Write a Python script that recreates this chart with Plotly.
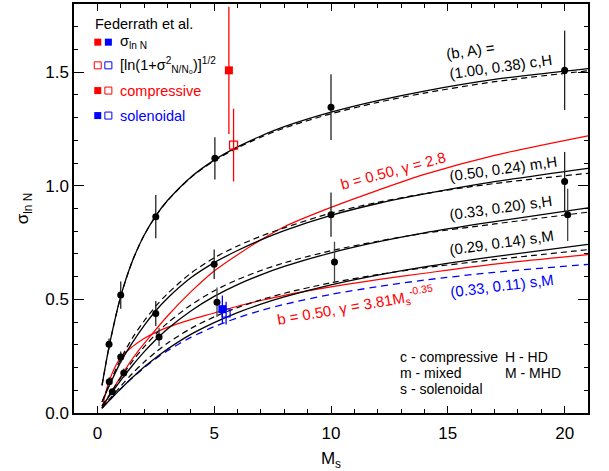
import plotly.graph_objects as go

# ---------------- data ----------------
ms_grid = [0.2, 0.5, 1, 1.5, 2, 2.5, 3, 4, 5, 6, 7, 8, 10, 12, 14, 17, 21]

cH_solid = [0.122, 0.291, 0.513, 0.669, 0.782, 0.868, 0.935, 1.038, 1.113, 1.171, 1.219, 1.260, 1.324, 1.375, 1.417, 1.468, 1.516]
cH_dash  = [0.122, 0.291, 0.513, 0.669, 0.782, 0.867, 0.934, 1.036, 1.110, 1.167, 1.214, 1.254, 1.317, 1.367, 1.408, 1.458, 1.506]
mH_solid = [0.049, 0.118, 0.225, 0.310, 0.385, 0.450, 0.505, 0.595, 0.662, 0.715, 0.762, 0.803, 0.870, 0.922, 0.964, 1.018, 1.077]
mH_dash  = [0.049, 0.125, 0.238, 0.330, 0.405, 0.470, 0.525, 0.615, 0.683, 0.735, 0.778, 0.815, 0.880, 0.927, 0.965, 1.010, 1.055]
sH_solid = [0.030, 0.073, 0.144, 0.209, 0.269, 0.322, 0.370, 0.449, 0.513, 0.565, 0.608, 0.645, 0.705, 0.753, 0.793, 0.842, 0.903]
sH_dash  = [0.030, 0.078, 0.156, 0.227, 0.291, 0.347, 0.396, 0.475, 0.538, 0.587, 0.627, 0.661, 0.714, 0.756, 0.791, 0.832, 0.884]
sM_solid = [0.022, 0.054, 0.106, 0.156, 0.202, 0.243, 0.281, 0.346, 0.398, 0.442, 0.479, 0.511, 0.564, 0.607, 0.643, 0.688, 0.742]
sM_dash  = [0.022, 0.059, 0.118, 0.174, 0.224, 0.268, 0.307, 0.372, 0.423, 0.464, 0.498, 0.527, 0.573, 0.609, 0.639, 0.675, 0.719]
sM_blue  = [0.022, 0.054, 0.107, 0.155, 0.199, 0.239, 0.274, 0.333, 0.380, 0.419, 0.451, 0.478, 0.522, 0.556, 0.585, 0.619, 0.654]
red_g28  = [0.020, 0.075, 0.160, 0.238, 0.305, 0.367, 0.427, 0.533, 0.625, 0.697, 0.762, 0.820, 0.905, 0.980, 1.050, 1.134, 1.220]
red_gvar = [0.020, 0.140, 0.245, 0.292, 0.328, 0.355, 0.377, 0.411, 0.440, 0.470, 0.495, 0.518, 0.555, 0.587, 0.615, 0.655, 0.697]

# simulation points (black)
ms_c = [0.5, 1.0, 2.5, 5.03, 10.0, 20.0]
sig_c = [0.303, 0.519, 0.864, 1.121, 1.346, 1.508]
err_c = [0.025, 0.06, 0.095, 0.093, 0.145, 0.175]
ms_m = [0.51, 1.0, 2.5, 5.0, 10.0, 20.0]
sig_m = [0.137, 0.246, 0.438, 0.655, 0.873, 1.019]
err_m = [0.02, 0.025, 0.055, 0.065, 0.097, 0.13]
ms_s = [0.64, 1.13, 2.64, 5.12, 10.15, 20.13]
sig_s = [0.094, 0.176, 0.335, 0.487, 0.664, 0.872]
err_s = [0.012, 0.02, 0.04, 0.065, 0.09, 0.115]

# Federrath et al. points
fed_comp_ms = [5.63]; fed_comp_sig = [1.508]; fed_comp_err = [0.28]
fed_comp_ms2 = [5.83]; fed_comp_sig2 = [1.179]; fed_comp_err2 = [0.16]
fed_sol_ms = [5.35]; fed_sol_sig = [0.457]; fed_sol_err = [0.06]
fed_sol_ms2 = [5.51]; fed_sol_sig2 = [0.440]; fed_sol_err2 = [0.05]

FONT = "Liberation Sans, Arial, sans-serif"
RED = "#ff0000"
BLUE = "#0000ff"

fig = go.Figure()

def add_line(y, color, dash=None, width=1.3):
    fig.add_trace(go.Scatter(
        x=ms_grid, y=y, mode="lines",
        line=dict(color=color, width=width, dash=dash, shape="spline", smoothing=0.8),
        hoverinfo="skip", showlegend=False))

DASH = "6px,4px"
add_line(sM_blue, BLUE, dash="7px,5px", width=1.3)
add_line(red_gvar, RED, width=1.2)
add_line(red_g28, RED, width=1.2)
for sol, das in [(cH_solid, cH_dash), (mH_solid, mH_dash), (sH_solid, sH_dash), (sM_solid, sM_dash)]:
    add_line(das, "black", dash=DASH, width=1.2)
    add_line(sol, "black", width=1.3)

def add_pts(x, y, e, color, symbol, size, ecolor, lw=1.0):
    fig.add_trace(go.Scatter(
        x=x, y=y, mode="markers",
        marker=dict(color=color, size=size, symbol=symbol, line=dict(width=lw, color=color)),
        error_y=dict(type="data", array=e, visible=True, width=0, thickness=1.3, color=ecolor),
        hoverinfo="skip", showlegend=False))

add_pts(ms_c, sig_c, err_c, "black", "circle", 7, "#222222", 0)
add_pts(ms_m, sig_m, err_m, "black", "circle", 7, "#222222", 0)
add_pts(ms_s, sig_s, err_s, "black", "circle", 7, "#444444", 0)
add_pts(fed_comp_ms, fed_comp_sig, fed_comp_err, RED, "square", 8, RED, 0)
add_pts(fed_comp_ms2, fed_comp_sig2, fed_comp_err2, RED, "square-open", 8, RED, 1.2)
add_pts(fed_sol_ms, fed_sol_sig, fed_sol_err, BLUE, "square", 8, BLUE, 0)
add_pts(fed_sol_ms2, fed_sol_sig2, fed_sol_err2, BLUE, "square-open", 8, BLUE, 1.2)

# ---------------- legend-like text block ----------------
ann = []
def txt(x, y, s, color="black", size=15, angle=0, xanchor="center"):
    ann.append(dict(x=x, y=y, xref="x", yref="y", text=s, showarrow=False,
                    textangle=angle, xanchor=xanchor, yanchor="middle",
                    font=dict(family=FONT, size=size, color=color)))

txt(-0.18, 1.713, "Federrath et al.", xanchor="left", size=14.5)
txt(0.89, 1.632, "σ<sub>ln N</sub>", xanchor="left", size=14.5)
txt(0.89, 1.530, "[ln(1+σ<sup>2</sup><sub>N/N₀</sub>)]<sup>1/2</sup>", xanchor="left", size=14.5)
txt(0.89, 1.419, "compressive", color=RED, xanchor="left", size=14.5)
txt(0.89, 1.309, "solenoidal", color=BLUE, xanchor="left", size=14.5)

shapes = []
def sq(x, y, color, filled):
    shapes.append(dict(type="rect", xref="x", yref="y", xsizemode="pixel", ysizemode="pixel",
                       xanchor=x, yanchor=y, x0=-3.5, x1=3.5, y0=-3.5, y1=3.5,
                       fillcolor=color if filled else "rgba(0,0,0,0)",
                       line=dict(color=color, width=0 if filled else 1)))
sq(0.017, 1.632, RED, True); sq(0.471, 1.632, BLUE, True)
sq(0.017, 1.530, RED, False); sq(0.471, 1.530, BLUE, False)
sq(0.017, 1.419, RED, True); sq(0.471, 1.419, RED, False)
sq(0.017, 1.309, BLUE, True); sq(0.471, 1.309, BLUE, False)

# curve labels
txt(15.96, 1.594, "(b, A) =", angle=-8)
txt(17.25, 1.525, "(1.00, 0.38) c,H", angle=-8)
txt(17.38, 1.077, "(0.50, 0.24) m,H", angle=-8)
txt(17.25, 0.905, "(0.33, 0.20) s,H", angle=-8)
txt(17.29, 0.749, "(0.29, 0.14) s,M", angle=-8)
txt(17.32, 0.562, "(0.33, 0.11) s,M", color=BLUE, angle=-7)
txt(12.66, 1.066, "b = 0.50, γ = 2.8", color=RED, angle=-15)
txt(11.04, 0.475, "b = 0.50, γ = 3.81M<sub>s</sub><sup>-0.35</sup>", color=RED, angle=-10)

txt(12.88, 0.246, "c - compressive", xanchor="left", size=14)
txt(12.88, 0.177, "m - mixed", xanchor="left", size=14)
txt(12.88, 0.104, "s - solenoidal", xanchor="left", size=14)
txt(17.38, 0.246, "H - HD", xanchor="left", size=14)
txt(17.38, 0.177, "M - MHD", xanchor="left", size=14)

axis_common = dict(showgrid=False, zeroline=False, showline=True, linecolor="black", linewidth=1.5,
                   mirror="allticks", ticks="inside", tickwidth=1, tickcolor="black", automargin=False,
                   tickfont=dict(family=FONT, size=17, color="black"))

fig.update_layout(
    width=609, height=471,
    margin=dict(l=74, r=21, t=4, b=58, autoexpand=False),
    paper_bgcolor="white", plot_bgcolor="white",
    showlegend=False,
    annotations=ann, shapes=shapes,
    xaxis=dict(range=[-1, 21], tickvals=[0, 5, 10, 15, 20], ticklen=7, ticklabelstandoff=4,
               minor=dict(dtick=1, ticks="inside", ticklen=4, tickwidth=1, tickcolor="black", showgrid=False),
               title=dict(text="M<sub>s</sub>", font=dict(family=FONT, size=17, color="black"), standoff=10),
               **axis_common),
    yaxis=dict(range=[0, 1.8], tickvals=[0, 0.5, 1.0, 1.5], ticktext=["0.0", "0.5", "1.0", "1.5"], ticklen=10,
               minor=dict(dtick=0.1, ticks="inside", ticklen=4, tickwidth=1, tickcolor="black", showgrid=False),
               title=dict(text="σ<sub>ln N</sub>", font=dict(family=FONT, size=17, color="black"), standoff=12),
               **axis_common),
)

fig.write_html("out.html", config={"displayModeBar": False},
               post_script="document.body.style.margin='0px';")
